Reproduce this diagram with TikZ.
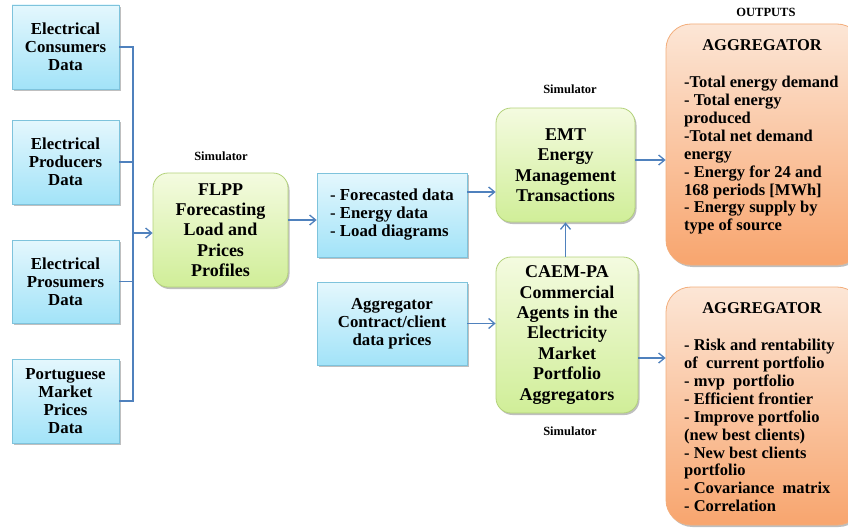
\documentclass[tikz,border=0pt]{standalone}
\usepackage{fontspec}
\setmainfont{Liberation Serif}
\newfontfamily\tnr{Liberation Serif}
\usetikzlibrary{arrows.meta,shadows,calc}
\definecolor{lnk}{HTML}{4F81BD}
\definecolor{blueT}{HTML}{E4F7FD}
\definecolor{blueB}{HTML}{A2E3F8}
\definecolor{blueD}{HTML}{7EC3DC}
\definecolor{greenT}{HTML}{F4FBE0}
\definecolor{greenB}{HTML}{D0EE98}
\definecolor{greenD}{HTML}{B3D27A}
\definecolor{orT}{HTML}{FCE6D6}
\definecolor{orB}{HTML}{F8A56E}
\definecolor{orD}{HTML}{F3AE7C}
\tikzset{
  shad/.style={drop shadow={shadow xshift=1.5pt,shadow yshift=-2pt,opacity=0.25,fill=black}},
  bluebox/.style={shad,draw=blueD,line width=0.8pt,top color=blueT,bottom color=blueB,
    align=center,inner sep=0pt,font=\tnr\bfseries\fontsize{16.8}{18}\selectfont},
  greenbox/.style={shad,draw=greenD,line width=0.8pt,top color=greenT,bottom color=greenB,
    rounded corners=15pt,align=center,inner sep=0pt,font=\tnr\bfseries\fontsize{18}{20.4}\selectfont},
  orbox/.style={shad,draw=orD,line width=0.8pt,top color=orT,bottom color=orB,
    rounded corners=25pt,inner sep=0pt},
  lbl/.style={font=\tnr\bfseries\fontsize{12.5}{14}\selectfont,inner sep=0pt},
  ttl/.style={font=\tnr\bfseries\fontsize{16.5}{18}\selectfont,inner sep=0pt},
  lst/.style={font=\tnr\bfseries\fontsize{16.5}{17.9}\selectfont,align=left,inner sep=0pt,anchor=north west},
  conn/.style={draw=lnk,line width=1.3pt},
  arr/.style={conn,-{Straight Barb[length=6pt,width=10pt,line width=1.3pt]}}
}
\begin{document}
\begin{tikzpicture}[x=1pt,y=-1pt]
\useasboundingbox[fill=white] (0,0) rectangle (848,527);

% left data boxes
\node[bluebox,minimum width=107pt,minimum height=84pt] (b1) at (65.5,47) {Electrical\\Consumers\\Data};
\node[bluebox,minimum width=107pt,minimum height=84pt] (b2) at (65.5,162) {Electrical\\Producers\\Data};
\node[bluebox,minimum width=107pt,minimum height=83pt] (b3) at (65.5,281.5) {Electrical\\Prosumers\\Data};
\node[bluebox,minimum width=107pt,minimum height=84pt] (b4) at (65.5,401) {Portuguese\\Market\\Prices\\Data};

% simulators
\node[greenbox,minimum width=135pt,minimum height=114pt] (flpp) at (220.5,230) {FLPP\\Forecasting\\Load and\\Prices\\Profiles};
\node[lbl] (s1) at (221,156) {Simulator};

\node[bluebox,minimum width=150pt,minimum height=84pt,align=left] (fc) at (392,215) {- Forecasted data\\- Energy data\\- Load diagrams};

\node[greenbox,minimum width=139pt,minimum height=114pt] (emt) at (565.5,165) {EMT\\Energy\\Management\\Transactions};
\node[lbl] (s2) at (570,89) {Simulator};

\node[greenbox,minimum width=142pt,minimum height=156pt] (caem) at (567,335) {CAEM-PA\\Commercial\\Agents in the\\Electricity\\Market\\Portfolio\\Aggregators};
\node[lbl] (s3) at (570,431) {Simulator};

\node[bluebox,minimum width=150pt,minimum height=83pt] (agg) at (392,323.5) {Aggregator\\Contract/client\\data prices};

% outputs
\node[lbl] (outs) at (766,12) {OUTPUTS};
\node[orbox,minimum width=196pt,minimum height=241pt] (o1) at (764,144.5) {};
\node[ttl] (t1) at (762,45) {AGGREGATOR};
\node[lst] (l1) at (684,76) {-Total energy demand\\- Total energy\\produced\\-Total net demand\\energy\\- Energy for 24 and\\168 periods [MWh]\\- Energy supply by\\type of source};

\node[orbox,minimum width=196pt,minimum height=238pt] (o2) at (764,406) {};
\node[ttl] (t2) at (762,308) {AGGREGATOR};
\node[lst] (l2) at (684,339) {- Risk and rentability\\of\ \ current portfolio\\- mvp\ \ portfolio\\- Efficient frontier\\- Improve portfolio\\(new best clients)\\- New best clients\\portfolio\\- Covariance\ \ matrix\\- Correlation};

% connectors
\coordinate (bus) at (133,233);
\draw[conn] (b1.east) -| (bus);
\draw[conn] (b2.east) -| (bus);
\draw[conn] (b3.east) -| (bus);
\draw[conn] (b4.east) -| (bus);
\draw[arr] (bus) -- (bus -| flpp.west);
\draw[arr] ([yshift=10pt]flpp.east) -- ([yshift=10pt]flpp.east -| fc.west);
\draw[arr] ([yshift=23pt]fc.east) -- ([yshift=23pt]fc.east -| emt.west);
\draw[arr] ([yshift=5pt]emt.east) -- ([yshift=5pt]emt.east -| o1.west);
\draw[arr] (agg.east) -- (agg.east -| caem.west);
\draw[arr] ([yshift=-23pt]caem.east) -- ([yshift=-23pt]caem.east -| o2.west);
\draw[arr] (caem.north -| emt.south) -- (emt.south);
\end{tikzpicture}
\end{document}
